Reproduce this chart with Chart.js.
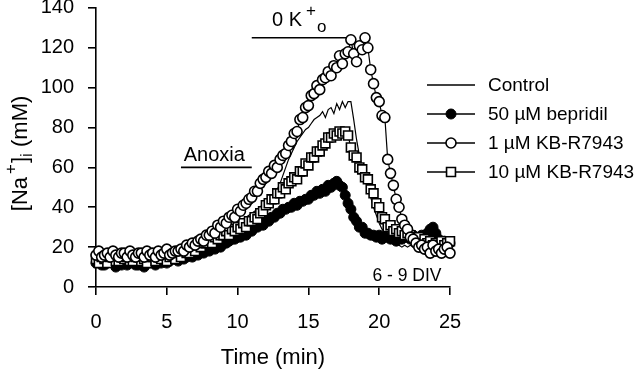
<!DOCTYPE html>
<html><head><meta charset="utf-8">
<script src="https://cdn.jsdelivr.net/npm/chart.js@4"></script>
<style>html,body{margin:0;padding:0;background:#fff}canvas{display:block}</style>
</head><body>
<canvas id="c" width="640" height="377"></canvas>
<script>
const times = [0,0.2,0.4,0.6,0.8,1,1.2,1.4,1.6,1.8,2,2.2,2.4,2.6,2.8,3,3.2,3.4,3.6,3.8,4,4.2,4.4,4.6,4.8,5,5.2,5.4,5.6,5.8,6,6.2,6.4,6.6,6.8,7,7.2,7.4,7.6,7.8,8,8.2,8.4,8.6,8.8,9,9.2,9.4,9.6,9.8,10,10.2,10.4,10.6,10.8,11,11.2,11.4,11.6,11.8,12,12.2,12.4,12.6,12.8,13,13.2,13.4,13.6,13.8,14,14.2,14.4,14.6,14.8,15,15.2,15.4,15.6,15.8,16,16.2,16.4,16.6,16.8,17,17.2,17.4,17.6,17.8,18,18.2,18.4,18.6,18.8,19,19.2,19.4,19.6,19.8,20,20.2,20.4,20.6,20.8,21,21.2,21.4,21.6,21.8,22,22.2,22.4,22.6,22.8,23,23.2,23.4,23.6,23.8,24,24.2,24.4,24.6,24.8,25];

const control = [14,15,16,15,14,15,16,15,14,15,15,16,15,14,15,16,15,14,15,16,15,14,15,16,15,15,16,15,16,16,
16,17,17,18,18,19,19,20,21,21,
22,22,23,24,25,26,27,28,29,30,
31,32,33,35,36,37,38,39,40,42,
43,44,46,47,49,52,56,60,64,67,
70,73,75,77,79,80,82,84,85,86,
88,85,89,90,87,92,89,93,90,93,
93,84,74,66,60,55,50,45,40,36,
32,29,27,25,23,22,21,21,20,21,
20,21,20,19,20,21,20,19,20,21,20,19,20,20,19,20];

const bepridil = [12,13,11,11,12,14,12,10,12,11,13,11,12,13,11,11,12,10,12,12,13,11,13,12,14,12,13,14,14,13,
15,14,15,16,15,17,16,18,17,19,
18,20,19,21,20,22,22,23,24,24,
25,25,27,26,28,28,30,30,32,31,
33,33,35,35,37,37,39,39,40,40,
42,41,43,43,44,44,46,46,48,47,
49,48,51,50,52,53,51,50,46,42,
39,35,33,30,30,27,27,26,26,25,
26,24,25,25,24,25,23,25,24,25,
25,24,26,25,25,26,26,27,29,30,27,24,22,23,21,22];

const kb1 = [16,18,15,16,17,15,18,16,15,17,17,15,18,16,15,17,17,15,18,16,17,15,18,16,17,19,16,17,18,18,
19,18,21,20,22,21,23,24,23,26,
26,28,27,31,30,33,32,35,36,35,
39,38,41,42,44,45,48,48,52,54,
55,58,57,61,60,64,66,67,71,73,
77,78,84,85,90,91,96,97,101,99,
104,105,108,106,111,110,116,112,117,118,
124,117,113,121,119,125,120,109,102,95,
93,86,85,64,57,51,44,40,34,31,
29,25,24,22,20,21,19,20,17,21,18,19,17,19,20,17];

const kb10 = [14,12,15,14,12,15,15,13,13,15,14,15,13,13,15,15,13,14,12,15,15,13,15,14,16,13,15,16,14,17,
15,18,17,17,20,18,21,20,22,22,
24,22,25,24,26,26,28,26,29,28,
30,29,32,30,33,33,35,34,37,38,
41,42,44,44,47,47,50,49,52,53,
55,54,58,58,62,61,65,65,68,68,
71,72,75,75,77,76,78,77,78,76,
70,66,65,60,59,55,54,49,47,42,
40,35,34,30,31,28,29,27,28,26,
27,26,25,24,25,22,24,22,23,21,22,21,23,21,22,23];

const seriesLabels = ['Control','50 µM bepridil','1 µM KB-R7943','10 µM KB-R7943'];
const xTicks = [0,5,10,15,20,25];
const yTicks = [0,20,40,60,80,100,120,140];
const anoxiaPeriod = [6,11];
const anoxiaLevel = 60;
const zeroKPeriod = [11,17.7];
const zeroKLevel = 125;

const FONT = '"Liberation Sans", Arial, Helvetica, sans-serif';
const pts = v => times.map((t,i)=>({x:t,y:v[i]}));

const markerStyles = [
  {style:null},
  {style:'circle', r:5, fill:'#000', bw:1},
  {style:'circle', r:5, fill:'#fff', bw:1.6},
  {style:'rect', r:6.3, fill:'#fff', bw:1.6}
];

function drawMarker(ctx, m, x, y){
  if(!m.style) return;
  ctx.save();
  ctx.fillStyle=m.fill; ctx.strokeStyle='#000'; ctx.lineWidth=m.bw;
  ctx.beginPath();
  if(m.style==='circle'){ ctx.arc(x,y,m.r,0,Math.PI*2); }
  else { const s=m.r*Math.SQRT1_2; ctx.rect(x-s,y-s,2*s,2*s); }
  ctx.fill(); ctx.stroke();
  ctx.restore();
}

function richText(ctx, pieces, x, y, align){
  let total=0;
  pieces.forEach(p=>{ctx.font=`${p[1]}px ${FONT}`; total+=ctx.measureText(p[0]).width+(p[3]||0);});
  let cx = align==='center'? x-total/2 : x;
  pieces.forEach(p=>{ctx.font=`${p[1]}px ${FONT}`; cx+=(p[3]||0); ctx.fillText(p[0],cx,y+p[2]); cx+=ctx.measureText(p[0]).width;});
}

const annot = {
  id:'annot',
  afterDraw(chart){
    const ctx=chart.ctx, xs=chart.scales.x, ys=chart.scales.y, ca=chart.chartArea;
    ctx.save();
    ctx.fillStyle='#000'; ctx.strokeStyle='#000';
    ctx.textAlign='left'; ctx.textBaseline='alphabetic';
    const bar=(p,lv)=>{const y=ys.getPixelForValue(lv); ctx.lineWidth=1.6; ctx.beginPath(); ctx.moveTo(xs.getPixelForValue(p[0]),y); ctx.lineTo(xs.getPixelForValue(p[1]),y); ctx.stroke(); return y;};
    const ya=bar(anoxiaPeriod,anoxiaLevel);
    const xa=(xs.getPixelForValue(anoxiaPeriod[0])+xs.getPixelForValue(anoxiaPeriod[1]))/2;
    ctx.font=`20px ${FONT}`; ctx.textAlign='center';
    ctx.fillText('Anoxia', xa-2, ya-6);
    ctx.textAlign='left';
    const yk=bar(zeroKPeriod,zeroKLevel);
    const xk=(xs.getPixelForValue(zeroKPeriod[0])+xs.getPixelForValue(zeroKPeriod[1]))/2;
    richText(ctx, [['0 K',20,0,0],['+',17,-10,4],['o',17,6,1]], xk, yk-12, 'center');
    ctx.font=`17.5px ${FONT}`; ctx.textAlign='center';
    ctx.fillText('6 - 9 DIV', ca.right-43, ca.bottom-6);
    ctx.save();
    ctx.translate(27, (ca.top+ca.bottom)/2+6);
    ctx.rotate(-Math.PI/2);
    ctx.textAlign='left';
    richText(ctx, [['[Na',22,0,0],['+',17,-11,3],[']',22,0,1],['i',17,5,0],[' (mM)',22,0,0]], 0, 0, 'center');
    ctx.restore();
    ctx.font=`22px ${FONT}`; ctx.textAlign='center';
    ctx.fillText('Time (min)', (ca.left+ca.right)/2, 364);
    ctx.textAlign='left'; ctx.textBaseline='middle';
    seriesLabels.forEach((lab,i)=>{
      const y=85+i*29;
      ctx.lineWidth=1.4; ctx.beginPath(); ctx.moveTo(427,y); ctx.lineTo(475,y); ctx.stroke();
      drawMarker(ctx, markerStyles[i], 451, y);
      ctx.font=`19px ${FONT}`; ctx.fillStyle='#000';
      ctx.fillText(lab, 488, y+1);
    });
    ctx.restore();
  }
};

const mkDs = (lab, vals, m, order) => ({
  label: lab, data: pts(vals), order,
  showLine:true, borderColor:'#000', borderWidth:1.2, tension:0, clip:false,
  pointStyle: m.style || false, pointRadius: m.style? m.r:0,
  pointBackgroundColor: m.fill || '#000', pointBorderColor:'#000', pointBorderWidth: m.bw||1,
  pointHoverRadius: m.style? m.r:0
});

new Chart(document.getElementById('c'), {
  type:'line',
  data:{ datasets:[
    mkDs(seriesLabels[0], control, markerStyles[0], 2),
    mkDs(seriesLabels[1], bepridil, markerStyles[1], 3),
    mkDs(seriesLabels[2], kb1, markerStyles[2], 0),
    mkDs(seriesLabels[3], kb10, markerStyles[3], 1)
  ]},
  options:{
    responsive:false, animation:false, devicePixelRatio:1,
    layout:{padding:{left:0,right:190,top:7,bottom:0}},
    plugins:{legend:{display:false}, tooltip:{enabled:false}},
    scales:{
      x:{type:'linear', min:0, max:25,
        afterBuildTicks:s=>{s.ticks=xTicks.map(v=>({value:v}));},
        ticks:{color:'#000', font:{family:FONT,size:20}, padding:15, maxRotation:0, autoSkip:false},
        grid:{display:true, drawOnChartArea:false, drawTicks:true, tickLength:8, color:'#000', lineWidth:1.6},
        border:{display:true, color:'#000', width:1.6},
        afterFit:s=>{s.height=90; s.paddingLeft=0; s.paddingRight=0;}
      },
      y:{type:'linear', min:0, max:140,
        afterBuildTicks:s=>{s.ticks=yTicks.map(v=>({value:v}));},
        ticks:{color:'#000', font:{family:FONT,size:20}, padding:14, autoSkip:false},
        grid:{display:true, drawOnChartArea:false, drawTicks:true, tickLength:8, color:'#000', lineWidth:1.6},
        border:{display:true, color:'#000', width:1.6},
        afterFit:s=>{s.width=96; s.paddingTop=0; s.paddingBottom=0;}
      }
    }
  },
  plugins:[annot]
});
</script>
</body></html>
